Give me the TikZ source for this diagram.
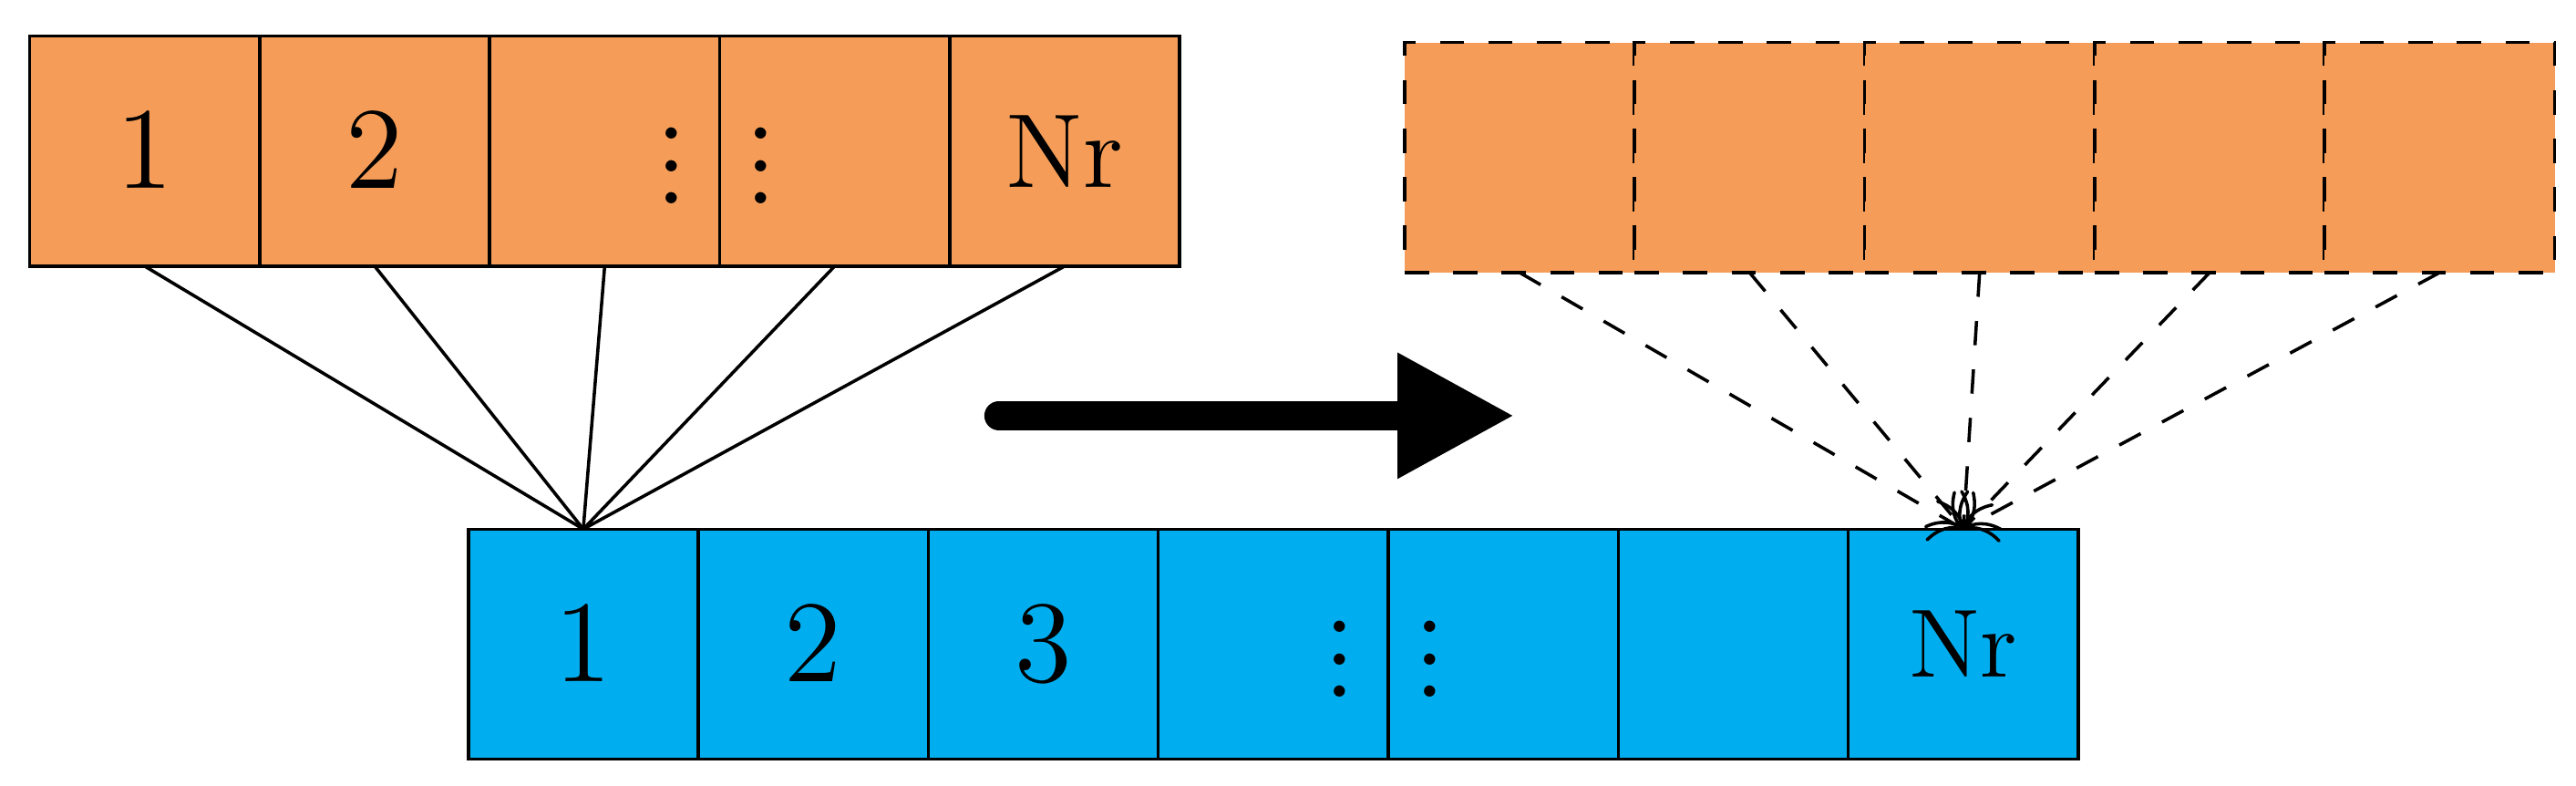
\documentclass[tikz,border=0pt]{standalone}
\usepackage{amssymb}
\usepackage{amsmath}
\usetikzlibrary{arrows.meta}
\definecolor{cellorange}{RGB}{245,157,88}
\definecolor{cellblue}{RGB}{0,174,239}
\begin{document}
\begin{tikzpicture}[cell/.style = {draw,minimum size = 1cm,inner sep=0pt,outer sep=0pt},
    lab/.style = {inner sep=0pt,font=\Large}]
    \useasboundingbox (0,0) rectangle (11.2,3.414);
    % source cells
    \foreach \i in {1,...,5}
        {\node[cell,fill=cellorange] (t\i) at (0.129+\i-0.5,2.757) {};}
    \node[lab] (tl1) at (t1.center) {$1$};
    \node[lab] (tl2) at (t2.center) {$2$};
    \node[lab] (tl3) at ([xshift=0.29cm,yshift=0.04cm]t3.center) {$\vdots$};
    \node[lab] (tl4) at ([xshift=-0.32cm,yshift=0.04cm]t4.center) {$\vdots$};
    \node[lab,font=\fontsize{13}{15}\selectfont] (tl5) at (t5.center) {Nr};

    % target cells
    \foreach \i in {1,...,5}
        {\node[cell,dashed,fill=cellorange] (r\i) at (6.107+\i-0.5,2.729) {};}

    % blue row
    \foreach \i in {1,...,7}
        {\node[cell,fill=cellblue] (b\i) at (2.036+\i-0.5,0.614) {};}
    \node[lab] (bl1) at (b1.center) {$1$};
    \node[lab] (bl2) at (b2.center) {$2$};
    \node[lab] (bl3) at (b3.center) {$3$};
    \node[lab] (bl4) at ([xshift=0.29cm,yshift=0.04cm]b4.center) {$\vdots$};
    \node[lab] (bl5) at ([xshift=-0.32cm,yshift=0.04cm]b5.center) {$\vdots$};
    \node[lab,font=\large] (bl7) at (b7.center) {Nr};

    \foreach \i in {1,...,5}
        {\draw (t\i.south) -- (b1.north);
        \draw [dashed,-{To[length=1.2mm]}] (r\i.south) -- (b7.north);}

    \coordinate (a0) at (4.343,1.607);
    \coordinate (a1) at (6.586,1.607);
    \draw [line width=3.6pt,line cap=round,-{Triangle[length=0.51cm,width=0.51cm]}] (a0) -- (a1);
\end{tikzpicture}
\end{document}
